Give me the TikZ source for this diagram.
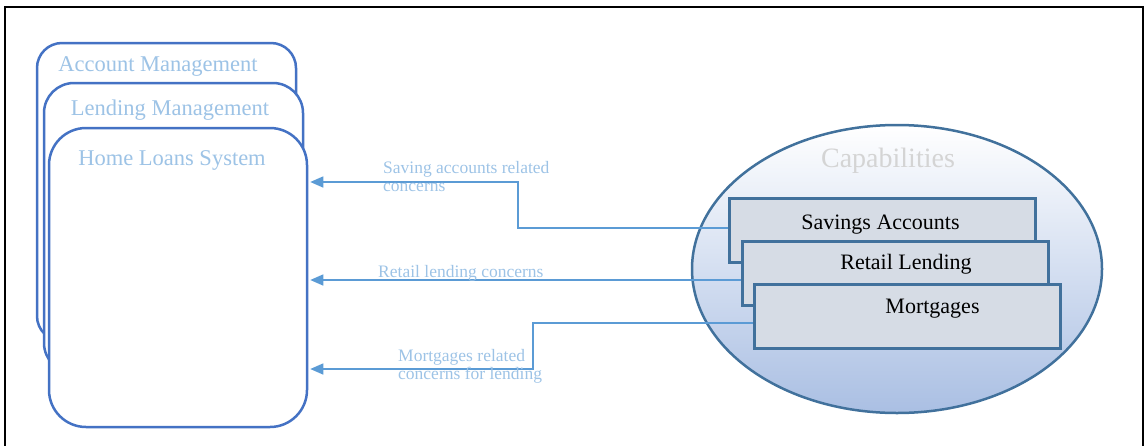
\documentclass[tikz,border=0pt]{standalone}
\usepackage{fontspec}
\setmainfont{Liberation Serif}
\usetikzlibrary{arrows.meta,shapes.geometric,calc}
\definecolor{sysblue}{HTML}{4472C4}
\definecolor{titleblue}{HTML}{9DC3E6}
\definecolor{connblue}{HTML}{5B9BD5}
\definecolor{capborder}{HTML}{41719C}
\definecolor{capfill}{HTML}{D6DCE5}
\definecolor{ellbottom}{HTML}{AABFE3}
\definecolor{capgray}{HTML}{D4D4D4}
\tikzset{
  sysbox/.style={draw=sysblue, line width=2.5pt, fill=white, inner sep=0pt},
  systitle/.style={text=titleblue, font=\fontsize{22.5}{24}\selectfont, anchor=base, inner sep=0pt},
  capbox/.style={draw=capborder, line width=3pt, fill=capfill, inner sep=0pt, minimum width=306pt, minimum height=64pt},
  captext/.style={text=black, font=\fontsize{22}{24}\selectfont, anchor=base, inner sep=0pt},
  conn/.style={draw=connblue, line width=1.4pt, -{Triangle[length=13pt,width=11pt]}, shorten >=2pt},
  connlabel/.style={text=titleblue, font=\fontsize{17.5}{18}\selectfont, align=left, inner sep=0pt}
}
\begin{document}
\begin{tikzpicture}[x=1pt,y=-1pt]
\useasboundingbox (0,0) rectangle (1145,445);
% frame
\draw[black, line width=2.5pt] (5,447) -- (5,7) -- (1143,7) -- (1143,447);

% stacked system boxes
\node[sysbox, rounded corners=25pt, minimum width=259pt, minimum height=298pt] (acct) at (166.5,192) {};
\node[systitle] (accttitle) at (158,71) {Account Management};
\node[sysbox, rounded corners=30pt, minimum width=259pt, minimum height=290pt] (lend) at (173.5,228) {};
\node[systitle] (lendtitle) at (170,115) {Lending Management};
\node[sysbox, rounded corners=37pt, minimum width=258pt, minimum height=299pt] (home) at (178,277.5) {};
\node[systitle] (hometitle) at (172,165) {Home Loans System};

% capabilities ellipse
\node[ellipse, draw=capborder, line width=2.5pt, top color=white, bottom color=ellbottom,
      minimum width=410pt, minimum height=288pt, inner sep=0pt] (caps) at (897,269) {};
\node[text=capgray, font=\fontsize{28}{30}\selectfont, anchor=base, inner sep=0pt] (capstitle) at (888,167) {Capabilities};

% capability boxes
\node[capbox] (sav) at (882,230.5) {};
\node[captext] (savtext) at (880.5,229) {Savings Accounts};
\node[capbox] (ret) at (895.5,273) {};
\node[captext] (rettext) at (906,269) {Retail Lending};
\node[capbox] (mort) at (907,316) {};
\node[captext] (morttext) at (932.5,313) {Mortgages};

% connectors
\draw[conn] ([yshift=2.5pt]sav.west) -- (518,228) |- (home.east |- 0,182);
\draw[conn] ([yshift=-7pt]ret.west) -- (home.east |- 0,280);
\draw[conn] ([yshift=-7pt]mort.west) -- (533,323) |- (home.east |- 0,369);

% connector labels
\node[connlabel, anchor=north west] (lab1) at (383,161) {Saving accounts related\\concerns};
\node[connlabel, anchor=base west] (lab2) at (378,277) {Retail lending concerns};
\node[connlabel, anchor=north west] (lab3) at (398,349) {Mortgages related\\concerns for lending};
\end{tikzpicture}
\end{document}
